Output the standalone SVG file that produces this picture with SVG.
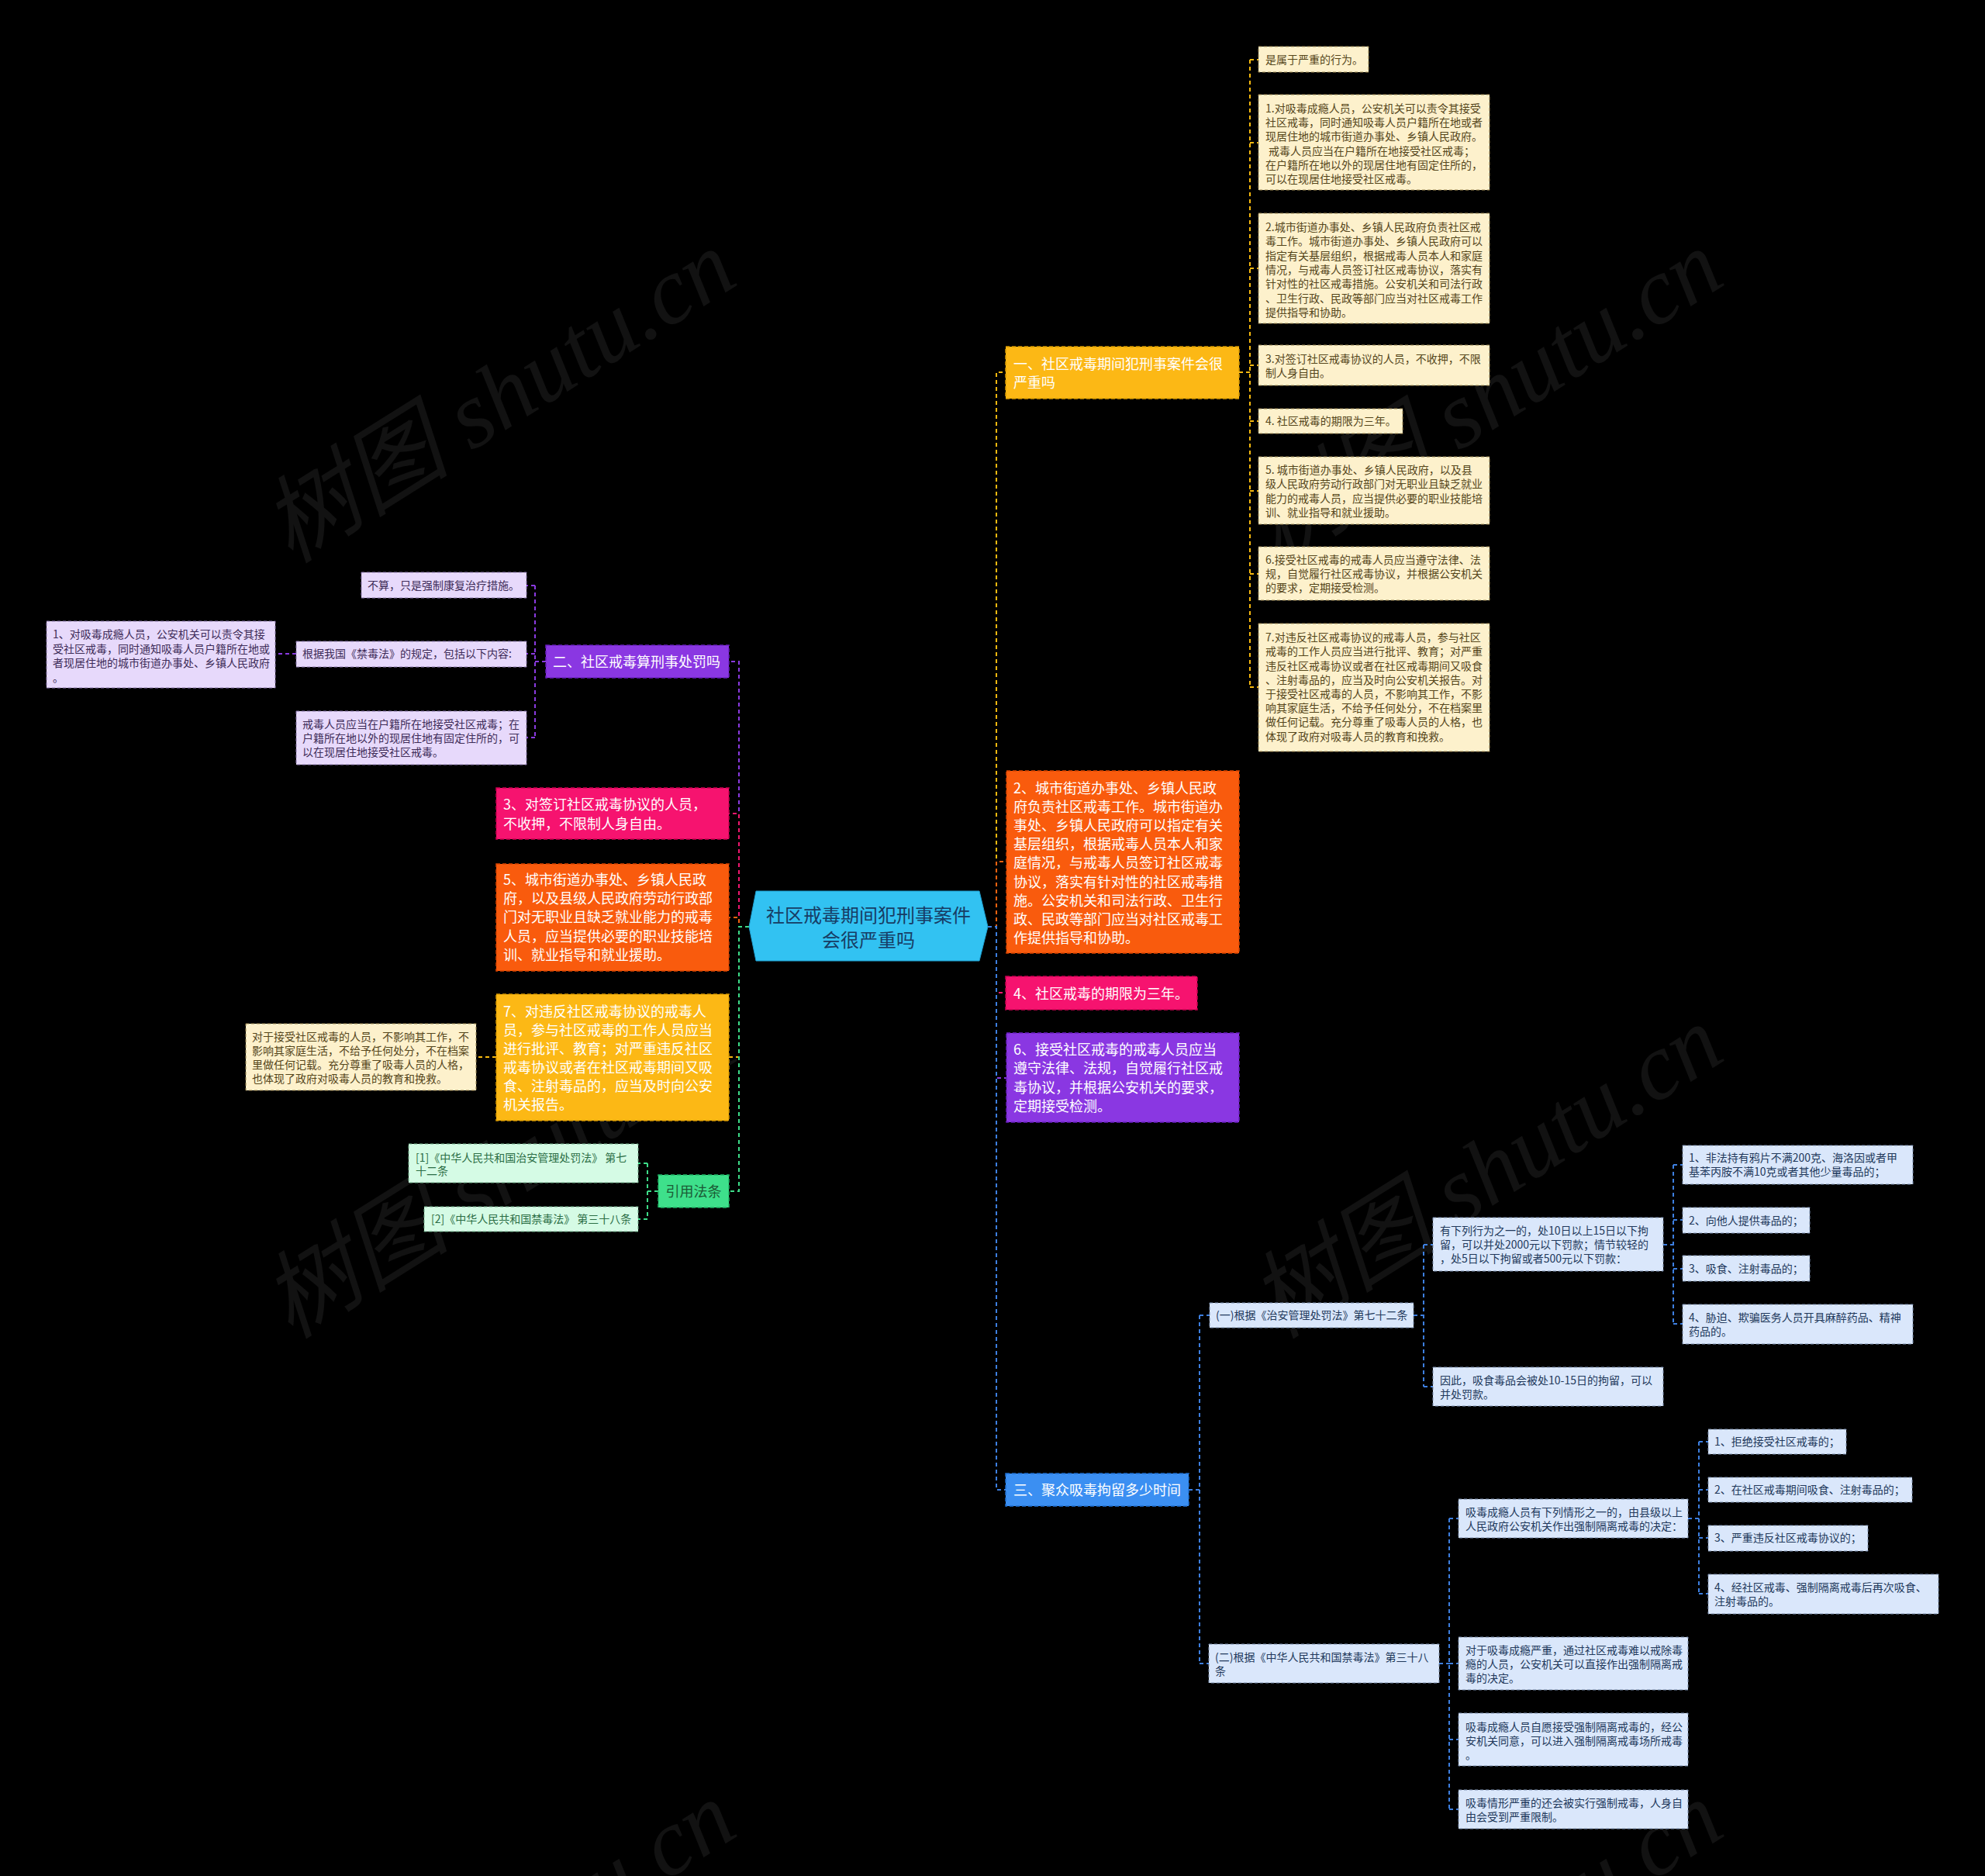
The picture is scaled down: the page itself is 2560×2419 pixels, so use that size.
<svg xmlns="http://www.w3.org/2000/svg" width="2560" height="2419" viewBox="0 0 2560 2419">
<style>
text{font-family:'Noto Sans CJK SC','Liberation Sans',sans-serif;}
.s{font-size:14px}
.b{font-size:18px;fill:#ffffff}
.ny rect{fill:#fdf1cc;stroke:#9c8852;stroke-width:1;stroke-dasharray:4 3}
.ny text{fill:#55461b}
.np rect{fill:#e7d9fb;stroke:#8e7bb0;stroke-width:1;stroke-dasharray:4 3}
.np text{fill:#3e2c58}
.nb rect{fill:#dae7fb;stroke:#7d90b0;stroke-width:1;stroke-dasharray:4 3}
.nb text{fill:#22395b}
.ng rect{fill:#d5fbe5;stroke:#6fae88;stroke-width:1;stroke-dasharray:4 3}
.ng text{fill:#2c6e45}
.m rect{stroke-width:1.5;stroke-dasharray:5 3}
.c{fill:none;stroke-width:2;stroke-dasharray:5 4}
.cy{stroke:#f7b90f}.co{stroke:#f5620f}.cp{stroke:#f0176f}.cv{stroke:#8a3ae0}.cb{stroke:#3d7fe0}.cg{stroke:#3ddc88}
.wm{font-family:'Liberation Serif','Noto Sans CJK SC',serif;font-size:122px;font-style:italic;fill:#ffffff;fill-opacity:0.07}
</style>
<rect x="0" y="0" width="2560" height="2419" fill="#000000"/>

<g id="watermarks">
<text class="wm" x="645" y="552" text-anchor="middle" transform="rotate(-32 645 514)">树图 shutu.cn</text>
<text class="wm" x="1918" y="552" text-anchor="middle" transform="rotate(-32 1918 514)">树图 shutu.cn</text>
<text class="wm" x="645" y="1552" text-anchor="middle" transform="rotate(-32 645 1514)">树图 shutu.cn</text>
<text class="wm" x="1918" y="1552" text-anchor="middle" transform="rotate(-32 1918 1514)">树图 shutu.cn</text>
<text class="wm" x="645" y="2552" text-anchor="middle" transform="rotate(-32 645 2514)">树图 shutu.cn</text>
<text class="wm" x="1918" y="2552" text-anchor="middle" transform="rotate(-32 1918 2514)">树图 shutu.cn</text>
</g>

<g id="connectors">
<path class="c cv" d="M966,1195 H953 V853 H940"/>
<path class="c cp" d="M966,1195 H953 V1049 H940"/>
<path class="c co" d="M966,1195 H953 V1183 H940"/>
<path class="c cy" d="M966,1195 H953 V1363 H940"/>
<path class="c cg" d="M966,1195 H953 V1536 H940"/>
<path class="c cy" d="M1274,1195 H1285 V480 H1297"/>
<path class="c co" d="M1274,1195 H1285 V1111 H1298"/>
<path class="c cp" d="M1274,1195 H1285 V1280 H1297"/>
<path class="c cv" d="M1274,1195 H1285 V1390 H1298"/>
<path class="c cb" d="M1274,1195 H1285 V1921 H1297"/>
<path class="c cy" d="M1598,480 H1612 M1612,77 V886 M1612,77 H1623 M1612,184 H1623 M1612,346 H1623 M1612,471 H1623 M1612,543 H1623 M1612,633 H1623 M1612,740 H1623 M1612,886 H1623"/>
<path class="c cv" d="M704,853 H690 M690,755 V951 M690,755 H679 M690,843 H679 M690,951 H679 M382,843 H355"/>
<path class="c cy" d="M640,1363 H614"/>
<path class="c cg" d="M849,1536 H835 M835,1500 V1572 M835,1500 H823 M835,1572 H823"/>
<path class="c cb" d="M1533,1921 H1547 M1547,1696 V2145 M1547,1696 H1560 M1547,2145 H1559"/>
<path class="c cb" d="M1823,1696 H1836 M1836,1605 V1788 M1836,1605 H1848 M1836,1788 H1848"/>
<path class="c cb" d="M2145,1605 H2158 M2158,1502 V1707 M2158,1502 H2170 M2158,1573 H2170 M2158,1636 H2170 M2158,1707 H2170"/>
<path class="c cb" d="M1856,2145 H1869 M1869,1958 V2333 M1869,1958 H1881 M1869,2145 H1881 M1869,2243 H1881 M1869,2333 H1881"/>
<path class="c cb" d="M2177,1958 H2191 M2191,1859 V2055 M2191,1859 H2203 M2191,1921 H2203 M2191,1983 H2203 M2191,2055 H2203"/>
</g>

<g id="center">
<polygon points="975,1149 1263,1149 1274,1195 1263,1239 975,1239 966,1195" fill="#32c2f2" stroke="#1f9fd0" stroke-width="1"/>
<text x="1120" y="1189" font-size="24" fill="#173c64" text-anchor="middle">社区戒毒期间犯刑事案件</text>
<text x="1120" y="1221" font-size="24" fill="#173c64" text-anchor="middle">会很严重吗</text>
</g>

<g id="n-yi" class="m"><rect x="1297" y="447" width="301" height="67" fill="#fcb815" stroke="#d99a00"/>
<text class="b"><tspan x="1307" y="475.5">一、社区戒毒期间犯刑事案件会很</tspan><tspan x="1307" y="499.5">严重吗</tspan></text></g>
<g id="n-r2" class="m"><rect x="1298" y="994" width="300" height="235" fill="#f95b0d" stroke="#d94400"/>
<text class="b"><tspan x="1307" y="1022.5">2、城市街道办事处、乡镇人民政</tspan><tspan x="1307" y="1046.7">府负责社区戒毒工作。城市街道办</tspan><tspan x="1307" y="1070.9">事处、乡镇人民政府可以指定有关</tspan><tspan x="1307" y="1095.1">基层组织，根据戒毒人员本人和家</tspan><tspan x="1307" y="1119.3">庭情况，与戒毒人员签订社区戒毒</tspan><tspan x="1307" y="1143.5">协议，落实有针对性的社区戒毒措</tspan><tspan x="1307" y="1167.7">施。公安机关和司法行政、卫生行</tspan><tspan x="1307" y="1191.9">政、民政等部门应当对社区戒毒工</tspan><tspan x="1307" y="1216.1">作提供指导和协助。</tspan></text></g>
<g id="n-r4" class="m"><rect x="1297" y="1259" width="247" height="43" fill="#f6136f" stroke="#cc0052"/>
<text class="b" x="1307" y="1287.5">4、社区戒毒的期限为三年。</text></g>
<g id="n-r6" class="m"><rect x="1298" y="1332" width="300" height="115" fill="#8a37e2" stroke="#6a1fc0"/>
<text class="b"><tspan x="1307" y="1359.5">6、接受社区戒毒的戒毒人员应当</tspan><tspan x="1307" y="1384">遵守法律、法规，自觉履行社区戒</tspan><tspan x="1307" y="1408.5">毒协议，并根据公安机关的要求，</tspan><tspan x="1307" y="1432.5">定期接受检测。</tspan></text></g>
<g id="n-san" class="m"><rect x="1297" y="1900" width="236" height="42" fill="#3b8ff2" stroke="#1f6fd0"/>
<text class="b" x="1307" y="1927.5">三、聚众吸毒拘留多少时间</text></g>

<g id="n-er" class="m"><rect x="704" y="832" width="236" height="42" fill="#8a37e2" stroke="#6a1fc0"/>
<text class="b" x="713" y="859.5">二、社区戒毒算刑事处罚吗</text></g>
<g id="n-l3" class="m"><rect x="640" y="1016" width="300" height="66" fill="#f6136f" stroke="#cc0052"/>
<text class="b"><tspan x="649" y="1043.5">3、对签订社区戒毒协议的人员，</tspan><tspan x="649" y="1068.5">不收押，不限制人身自由。</tspan></text></g>
<g id="n-l5" class="m"><rect x="640" y="1114" width="300" height="138" fill="#f95b0d" stroke="#d94400"/>
<text class="b"><tspan x="649" y="1140.5">5、城市街道办事处、乡镇人民政</tspan><tspan x="649" y="1165">府，以及县级人民政府劳动行政部</tspan><tspan x="649" y="1189">门对无职业且缺乏就业能力的戒毒</tspan><tspan x="649" y="1213.5">人员，应当提供必要的职业技能培</tspan><tspan x="649" y="1237.5">训、就业指导和就业援助。</tspan></text></g>
<g id="n-l7" class="m"><rect x="640" y="1282" width="300" height="163" fill="#fcb815" stroke="#d99a00"/>
<text class="b"><tspan x="649" y="1310.5">7、对违反社区戒毒协议的戒毒人</tspan><tspan x="649" y="1334.5">员，参与社区戒毒的工作人员应当</tspan><tspan x="649" y="1358.5">进行批评、教育；对严重违反社区</tspan><tspan x="649" y="1382.5">戒毒协议或者在社区戒毒期间又吸</tspan><tspan x="649" y="1406.5">食、注射毒品的，应当及时向公安</tspan><tspan x="649" y="1430.5">机关报告。</tspan></text></g>
<g id="n-cite" class="m"><rect x="849" y="1515" width="91" height="42" fill="#3ee08b" stroke="#1fb566"/>
<text x="894.5" y="1542.5" font-size="18" fill="#1b5a35" text-anchor="middle">引用法条</text></g>

<g id="y1" class="ny"><rect x="1623" y="60" width="142" height="33"/><text class="s" x="1632" y="82">是属于严重的行为。</text></g>
<g id="y2" class="ny"><rect x="1623" y="122" width="298" height="123"/><text class="s"><tspan x="1632" y="145">1.对吸毒成瘾人员，公安机关可以责令其接受</tspan><tspan x="1632" y="163">社区戒毒，同时通知吸毒人员户籍所在地或者</tspan><tspan x="1632" y="181">现居住地的城市街道办事处、乡镇人民政府。</tspan><tspan x="1636" y="200">戒毒人员应当在户籍所在地接受社区戒毒；</tspan><tspan x="1632" y="218">在户籍所在地以外的现居住地有固定住所的，</tspan><tspan x="1632" y="236">可以在现居住地接受社区戒毒。</tspan></text></g>
<g id="y3" class="ny"><rect x="1623" y="275" width="298" height="142"/><text class="s"><tspan x="1632" y="298">2.城市街道办事处、乡镇人民政府负责社区戒</tspan><tspan x="1632" y="316">毒工作。城市街道办事处、乡镇人民政府可以</tspan><tspan x="1632" y="335">指定有关基层组织，根据戒毒人员本人和家庭</tspan><tspan x="1632" y="353">情况，与戒毒人员签订社区戒毒协议，落实有</tspan><tspan x="1632" y="371">针对性的社区戒毒措施。公安机关和司法行政</tspan><tspan x="1632" y="390">、卫生行政、民政等部门应当对社区戒毒工作</tspan><tspan x="1632" y="408">提供指导和协助。</tspan></text></g>
<g id="y4" class="ny"><rect x="1623" y="445" width="298" height="52"/><text class="s"><tspan x="1632" y="468">3.对签订社区戒毒协议的人员，不收押，不限</tspan><tspan x="1632" y="486">制人身自由。</tspan></text></g>
<g id="y5" class="ny"><rect x="1623" y="527" width="186" height="32"/><text class="s" x="1632" y="548">4. 社区戒毒的期限为三年。</text></g>
<g id="y6" class="ny"><rect x="1623" y="589" width="298" height="87"/><text class="s"><tspan x="1632" y="611">5. 城市街道办事处、乡镇人民政府，以及县</tspan><tspan x="1632" y="629">级人民政府劳动行政部门对无职业且缺乏就业</tspan><tspan x="1632" y="648">能力的戒毒人员，应当提供必要的职业技能培</tspan><tspan x="1632" y="666">训、就业指导和就业援助。</tspan></text></g>
<g id="y7" class="ny"><rect x="1623" y="705" width="298" height="69"/><text class="s"><tspan x="1632" y="727">6.接受社区戒毒的戒毒人员应当遵守法律、法</tspan><tspan x="1632" y="745">规，自觉履行社区戒毒协议，并根据公安机关</tspan><tspan x="1632" y="763">的要求，定期接受检测。</tspan></text></g>
<g id="y8" class="ny"><rect x="1623" y="804" width="298" height="165"/><text class="s"><tspan x="1632" y="827">7.对违反社区戒毒协议的戒毒人员，参与社区</tspan><tspan x="1632" y="845">戒毒的工作人员应当进行批评、教育；对严重</tspan><tspan x="1632" y="864">违反社区戒毒协议或者在社区戒毒期间又吸食</tspan><tspan x="1632" y="882">、注射毒品的，应当及时向公安机关报告。对</tspan><tspan x="1632" y="900">于接受社区戒毒的人员，不影响其工作，不影</tspan><tspan x="1632" y="918">响其家庭生活，不给予任何处分，不在档案里</tspan><tspan x="1632" y="936">做任何记载。充分尊重了吸毒人员的人格，也</tspan><tspan x="1632" y="955">体现了政府对吸毒人员的教育和挽救。</tspan></text></g>
<g id="y9" class="ny"><rect x="317" y="1320" width="297" height="86"/><text class="s"><tspan x="325" y="1342">对于接受社区戒毒的人员，不影响其工作，不</tspan><tspan x="325" y="1360">影响其家庭生活，不给予任何处分，不在档案</tspan><tspan x="325" y="1378">里做任何记载。充分尊重了吸毒人员的人格，</tspan><tspan x="325" y="1396">也体现了政府对吸毒人员的教育和挽救。</tspan></text></g>

<g id="p1" class="np"><rect x="466" y="738" width="213" height="33"/><text class="s" x="474" y="760">不算，只是强制康复治疗措施。</text></g>
<g id="p2" class="np"><rect x="382" y="827" width="297" height="33"/><text class="s" x="390" y="848">根据我国《禁毒法》的规定，包括以下内容:</text></g>
<g id="p3" class="np"><rect x="382" y="917" width="297" height="69"/><text class="s"><tspan x="390" y="939">戒毒人员应当在户籍所在地接受社区戒毒；在</tspan><tspan x="390" y="957">户籍所在地以外的现居住地有固定住所的，可</tspan><tspan x="390" y="975">以在现居住地接受社区戒毒。</tspan></text></g>
<g id="p4" class="np"><rect x="60" y="801" width="295" height="86"/><text class="s"><tspan x="68" y="823">1、对吸毒成瘾人员，公安机关可以责令其接</tspan><tspan x="68" y="841.5">受社区戒毒，同时通知吸毒人员户籍所在地或</tspan><tspan x="68" y="860">者现居住地的城市街道办事处、乡镇人民政府</tspan><tspan x="68" y="878.5">。</tspan></text></g>

<g id="g1" class="ng"><rect x="527" y="1475" width="296" height="50"/><text class="s"><tspan x="536" y="1498">[1]《中华人民共和国治安管理处罚法》 第七</tspan><tspan x="536" y="1515">十二条</tspan></text></g>
<g id="g2" class="ng"><rect x="547" y="1556" width="276" height="32"/><text class="s" x="556" y="1577">[2]《中华人民共和国禁毒法》 第三十八条</text></g>

<g id="b1" class="nb"><rect x="1560" y="1680" width="263" height="32"/><text class="s" x="1568" y="1701">(一)根据《治安管理处罚法》第七十二条</text></g>
<g id="b2" class="nb"><rect x="1559" y="2120" width="297" height="50"/><text class="s"><tspan x="1567" y="2142">(二)根据《中华人民共和国禁毒法》第三十八</tspan><tspan x="1567" y="2160">条</tspan></text></g>
<g id="b3" class="nb"><rect x="1848" y="1570" width="297" height="69"/><text class="s"><tspan x="1857" y="1592">有下列行为之一的，处10日以上15日以下拘</tspan><tspan x="1857" y="1610">留，可以并处2000元以下罚款；情节较轻的</tspan><tspan x="1857" y="1628">，处5日以下拘留或者500元以下罚款：</tspan></text></g>
<g id="b4" class="nb"><rect x="1848" y="1763" width="297" height="50"/><text class="s"><tspan x="1857" y="1785">因此，吸食毒品会被处10-15日的拘留，可以</tspan><tspan x="1857" y="1803">并处罚款。</tspan></text></g>
<g id="b5" class="nb"><rect x="2170" y="1477" width="297" height="50"/><text class="s"><tspan x="2178" y="1498">1、非法持有鸦片不满200克、海洛因或者甲</tspan><tspan x="2178" y="1516">基苯丙胺不满10克或者其他少量毒品的；</tspan></text></g>
<g id="b6" class="nb"><rect x="2170" y="1557" width="164" height="33"/><text class="s" x="2178" y="1579">2、向他人提供毒品的；</text></g>
<g id="b7" class="nb"><rect x="2170" y="1619" width="164" height="33"/><text class="s" x="2178" y="1641">3、吸食、注射毒品的；</text></g>
<g id="b8" class="nb"><rect x="2170" y="1682" width="297" height="51"/><text class="s"><tspan x="2178" y="1704">4、胁迫、欺骗医务人员开具麻醉药品、精神</tspan><tspan x="2178" y="1722">药品的。</tspan></text></g>
<g id="b9" class="nb"><rect x="1881" y="1933" width="296" height="50"/><text class="s"><tspan x="1890" y="1955">吸毒成瘾人员有下列情形之一的，由县级以上</tspan><tspan x="1890" y="1973">人民政府公安机关作出强制隔离戒毒的决定：</tspan></text></g>
<g id="b10" class="nb"><rect x="1881" y="2111" width="296" height="68"/><text class="s"><tspan x="1890" y="2133">对于吸毒成瘾严重，通过社区戒毒难以戒除毒</tspan><tspan x="1890" y="2151">瘾的人员，公安机关可以直接作出强制隔离戒</tspan><tspan x="1890" y="2169">毒的决定。</tspan></text></g>
<g id="b11" class="nb"><rect x="1881" y="2209" width="296" height="68"/><text class="s"><tspan x="1890" y="2232">吸毒成瘾人员自愿接受强制隔离戒毒的，经公</tspan><tspan x="1890" y="2250">安机关同意，可以进入强制隔离戒毒场所戒毒</tspan><tspan x="1890" y="2268">。</tspan></text></g>
<g id="b12" class="nb"><rect x="1881" y="2308" width="296" height="50"/><text class="s"><tspan x="1890" y="2330">吸毒情形严重的还会被实行强制戒毒，人身自</tspan><tspan x="1890" y="2348">由会受到严重限制。</tspan></text></g>
<g id="b13" class="nb"><rect x="2203" y="1843" width="178" height="32"/><text class="s" x="2211" y="1864">1、拒绝接受社区戒毒的；</text></g>
<g id="b14" class="nb"><rect x="2203" y="1905" width="263" height="32"/><text class="s" x="2211" y="1926">2、在社区戒毒期间吸食、注射毒品的；</text></g>
<g id="b15" class="nb"><rect x="2203" y="1967" width="206" height="33"/><text class="s" x="2211" y="1988">3、严重违反社区戒毒协议的；</text></g>
<g id="b16" class="nb"><rect x="2203" y="2030" width="297" height="51"/><text class="s"><tspan x="2211" y="2052">4、经社区戒毒、强制隔离戒毒后再次吸食、</tspan><tspan x="2211" y="2070">注射毒品的。</tspan></text></g>
</svg>
